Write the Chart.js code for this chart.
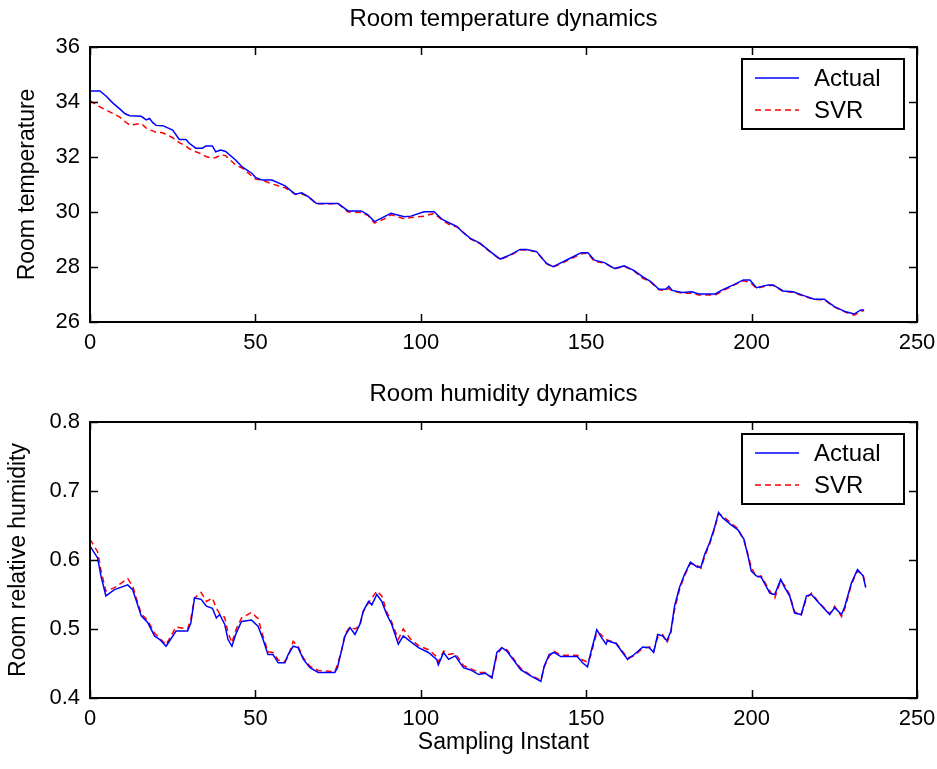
<!DOCTYPE html>
<html>
<head>
<meta charset="utf-8">
<title>Room temperature and humidity dynamics</title>
<script src="https://cdn.jsdelivr.net/npm/chart.js@4.4.0/dist/chart.umd.min.js"></script>
<style>
  html, body { margin: 0; padding: 0; background: #fff; }
  #wrap { position: relative; width: 937px; height: 769px; }
  .box { position: absolute; left: 0; width: 937px; }
</style>
</head>
<body>
<div id="wrap">
  <div class="box" style="top:0;height:375px"><canvas id="tempChart" width="937" height="375"></canvas></div>
  <div class="box" style="top:375px;height:394px"><canvas id="humChart" width="937" height="394"></canvas></div>
</div>
<script>
// Sampling instants and readings, top plot (room temperature)
const tempX = [0, 3, 5, 7, 9, 10.5, 12, 15.5, 17, 18, 19, 20, 22, 25, 27, 29, 30, 32, 34, 35, 37, 38, 39.5, 41, 44, 46, 49, 50, 52, 55,
  59, 62, 64, 66, 68.5, 75, 78, 82, 84, 86, 89, 91, 95, 97, 101, 104, 106.5, 108.5, 111, 112.5, 115, 118, 121, 124, 127, 130, 132, 135, 138, 140,
  142, 145, 148.5, 150.5, 152.5, 155.5, 158.5, 161.5, 164.5, 167, 169.5, 172, 174, 175, 176, 179, 182, 184, 189, 191, 194.5, 197.5, 199.5, 201.5, 205, 206.5,
  209.5, 212.5, 216, 219, 222, 225, 228.5, 231, 233, 234];
const tempActual = [34.40, 34.40, 34.20, 33.95, 33.75, 33.58, 33.50, 33.48, 33.35, 33.40, 33.25, 33.15, 33.14, 32.98, 32.64, 32.64, 32.50, 32.32, 32.32, 32.40,
  32.40, 32.19, 32.25, 32.20, 31.89, 31.64, 31.40, 31.26, 31.16, 31.16, 30.95, 30.65, 30.70, 30.56, 30.31, 30.31, 30.04, 30.04, 29.90, 29.65,
  29.83, 29.95, 29.83, 29.85, 30.01, 30.01, 29.73, 29.61, 29.47, 29.28, 29.04, 28.86, 28.56, 28.29, 28.44, 28.64, 28.64, 28.56, 28.13, 28.01,
  28.13, 28.31, 28.52, 28.52, 28.25, 28.16, 27.95, 28.04, 27.87, 27.65, 27.47, 27.19, 27.19, 27.30, 27.15, 27.07, 27.10, 27.02, 27.02, 27.16,
  27.35, 27.53, 27.53, 27.25, 27.35, 27.35, 27.13, 27.10, 26.95, 26.83, 26.83, 26.56, 26.37, 26.29, 26.44, 26.44];
const tempSvr = [34.05, 33.82, 33.70, 33.58, 33.45, 33.30, 33.16, 33.22, 33.05, 32.98, 32.95, 32.90, 32.88, 32.70, 32.52, 32.40, 32.30, 32.19, 32.10, 32.02,
  31.95, 31.98, 32.07, 32.05, 31.71, 31.60, 31.30, 31.20, 31.16, 31.02, 30.88, 30.65, 30.66, 30.55, 30.30, 30.30, 30.00, 29.98, 29.88, 29.60,
  29.75, 29.90, 29.75, 29.80, 29.85, 29.95, 29.70, 29.55, 29.45, 29.30, 29.02, 28.84, 28.55, 28.27, 28.42, 28.62, 28.62, 28.55, 28.12, 28.00,
  28.10, 28.28, 28.48, 28.50, 28.20, 28.15, 27.93, 28.02, 27.85, 27.60, 27.45, 27.17, 27.15, 27.22, 27.13, 27.05, 27.05, 26.98, 26.98, 27.12,
  27.33, 27.50, 27.45, 27.22, 27.33, 27.33, 27.12, 27.08, 26.93, 26.82, 26.80, 26.55, 26.35, 26.25, 26.38, 26.42];

// Sampling instants and readings, bottom plot (relative humidity)
const humX = [0, 2.3, 3.3, 4.8, 7.4, 11.4, 12.9, 15.5, 17.5, 19.5, 21, 23, 26, 29.5, 30.5, 31.6, 33.6, 35.2, 37, 38.2, 39.2, 40.7, 41.7, 42.9, 44.2, 45.8,
  48.8, 50.8, 52.3, 53.8, 55.3, 56.9, 58.9, 59.9, 61.4, 62.9, 64.5, 66.5, 69, 74, 74.8, 76.1, 77.1, 78.6, 80.1, 81.6, 82.6, 84.2, 85.2, 86.7,
  88.2, 89.7, 91.2, 93.2, 94.7, 96.8, 99.3, 102.3, 104.8, 105.3, 106.9, 108.4, 110.4, 112.9, 114.9, 117.5, 119.5, 121.5, 123, 124.5, 126, 130.2,
  133.2, 136.3, 137.3, 138.8, 140.3, 142.3, 147.3, 148.9, 150.4, 151.4, 153.2, 154.3, 156, 156.4, 159, 162.5, 164.5, 167.1, 169.1, 170.4, 171.6,
  173.1, 174.4, 175.6, 176.7, 178.2, 179.7, 181.5, 183.5, 184.7, 185.8, 187.3, 188.8, 190, 191.3, 193.8, 195.8, 197.7, 198.9, 199.9, 201.4,
  202.9, 205.5, 207, 208.8, 210, 211.5, 213, 215, 216.6, 218.1, 220.1, 223.6, 225.1, 227.2, 228.2, 230.2, 232, 233.7, 234.5];
const humActual = [0.620, 0.603, 0.577, 0.548, 0.557, 0.564, 0.557, 0.519, 0.509, 0.490, 0.485, 0.475, 0.497, 0.497, 0.509, 0.545, 0.543, 0.533, 0.530, 0.516,
  0.521, 0.507, 0.485, 0.475, 0.494, 0.511, 0.513, 0.504, 0.485, 0.463, 0.463, 0.451, 0.451, 0.463, 0.475, 0.473, 0.456, 0.444, 0.437, 0.437,
  0.444, 0.470, 0.490, 0.502, 0.492, 0.507, 0.526, 0.540, 0.535, 0.550, 0.540, 0.521, 0.507, 0.478, 0.490, 0.482, 0.473, 0.466, 0.456, 0.448,
  0.466, 0.456, 0.461, 0.444, 0.441, 0.434, 0.436, 0.429, 0.466, 0.473, 0.468, 0.441, 0.432, 0.424, 0.446, 0.463, 0.466, 0.460, 0.460, 0.451,
  0.445, 0.466, 0.499, 0.490, 0.478, 0.483, 0.479, 0.456, 0.463, 0.474, 0.473, 0.466, 0.492, 0.490, 0.483, 0.497, 0.533, 0.560, 0.579, 0.597,
  0.590, 0.590, 0.608, 0.625, 0.647, 0.669, 0.661, 0.651, 0.644, 0.630, 0.606, 0.584, 0.577, 0.575, 0.552, 0.550, 0.572, 0.560, 0.548, 0.523,
  0.521, 0.548, 0.550, 0.539, 0.521, 0.531, 0.521, 0.533, 0.567, 0.586, 0.577, 0.560];
const humSvr = [0.630, 0.612, 0.585, 0.555, 0.560, 0.573, 0.562, 0.522, 0.512, 0.494, 0.487, 0.477, 0.503, 0.500, 0.515, 0.545, 0.553, 0.540, 0.545, 0.530,
  0.522, 0.517, 0.495, 0.480, 0.500, 0.516, 0.524, 0.515, 0.490, 0.467, 0.466, 0.455, 0.453, 0.460, 0.482, 0.475, 0.458, 0.446, 0.440, 0.438,
  0.448, 0.470, 0.493, 0.503, 0.500, 0.505, 0.525, 0.538, 0.545, 0.555, 0.548, 0.525, 0.510, 0.485, 0.500, 0.486, 0.476, 0.470, 0.460, 0.452,
  0.468, 0.463, 0.465, 0.447, 0.443, 0.437, 0.437, 0.430, 0.462, 0.473, 0.470, 0.443, 0.433, 0.426, 0.445, 0.460, 0.468, 0.462, 0.462, 0.455,
  0.452, 0.462, 0.495, 0.493, 0.485, 0.484, 0.480, 0.458, 0.461, 0.472, 0.474, 0.468, 0.488, 0.492, 0.480, 0.495, 0.528, 0.557, 0.577, 0.595,
  0.592, 0.588, 0.605, 0.623, 0.645, 0.667, 0.664, 0.653, 0.646, 0.628, 0.608, 0.590, 0.575, 0.577, 0.555, 0.545, 0.570, 0.563, 0.550, 0.525,
  0.520, 0.545, 0.552, 0.540, 0.522, 0.533, 0.518, 0.530, 0.565, 0.584, 0.579, 0.562];

const seriesNames = ['Actual', 'SVR'];
const seriesColors = ['#0000ff', '#ff0000'];
const xTickStep = 50;

const FONT = 'Liberation Sans, Arial, sans-serif';

function toPoints(xs, ys) {
  return xs.map((x, i) => ({ x: x, y: ys[i] }));
}

// frame, inward ticks on all four sides and the boxed legend, MATLAB style
const matlabAxes = {
  id: 'matlabAxes',
  afterDraw(chart) {
    const { ctx, chartArea: a, scales } = chart;
    ctx.save();
    ctx.strokeStyle = '#000';
    ctx.lineWidth = 1.5;
    ctx.beginPath();
    scales.x.ticks.forEach(t => {
      const px = Math.round(scales.x.getPixelForValue(t.value)) + 0.5;
      ctx.moveTo(px, a.bottom); ctx.lineTo(px, a.bottom - 8);
      ctx.moveTo(px, a.top); ctx.lineTo(px, a.top + 8);
    });
    scales.y.ticks.forEach(t => {
      const py = Math.round(scales.y.getPixelForValue(t.value)) + 0.5;
      ctx.moveTo(a.left, py); ctx.lineTo(a.left + 8, py);
      ctx.moveTo(a.right, py); ctx.lineTo(a.right - 8, py);
    });
    ctx.stroke();
    ctx.lineWidth = 2;
    ctx.strokeRect(a.left, a.top, a.width, a.height);

    // legend
    const w = 162, h = 70;
    const lx = a.right - 13 - w, ly = a.top + 12;
    ctx.fillStyle = '#fff';
    ctx.fillRect(lx, ly, w, h);
    ctx.lineWidth = 2;
    ctx.strokeRect(lx, ly, w, h);
    chart.data.datasets.forEach((ds, i) => {
      const y = ly + 19 + i * 32;
      ctx.beginPath();
      ctx.strokeStyle = ds.borderColor;
      ctx.lineWidth = 1.5;
      ctx.setLineDash(ds.borderDash || []);
      ctx.moveTo(lx + 13, y); ctx.lineTo(lx + 57, y);
      ctx.stroke();
      ctx.setLineDash([]);
      ctx.fillStyle = '#000';
      ctx.font = '24px ' + FONT;
      ctx.textBaseline = 'middle';
      ctx.fillText(ds.label, lx + 72, y + 1);
    });
    ctx.restore();
  }
};

function makeChart(id, cfg) {
  const canvas = document.getElementById(id);
  return new Chart(canvas.getContext('2d'), {
    type: 'line',
    data: {
      datasets: [
        { label: seriesNames[0], data: toPoints(cfg.xs, cfg.actual), borderColor: seriesColors[0], borderWidth: 1.5 },
        { label: seriesNames[1], data: toPoints(cfg.xs, cfg.svr), borderColor: seriesColors[1], borderWidth: 1.5, borderDash: [6, 4] }
      ]
    },
    options: {
      responsive: false,
      animation: false,
      events: [],
      elements: { point: { radius: 0 }, line: { tension: 0 } },
      layout: { padding: { left: 0, right: 20, top: 0, bottom: 0 } },
      plugins: {
        legend: { display: false },
        tooltip: { enabled: false },
        title: {
          display: true,
          fullSize: false,
          text: cfg.title,
          color: '#000',
          font: { family: FONT, size: 24, weight: 'normal' },
          padding: { top: 5, bottom: 13.2 }
        }
      },
      scales: {
        x: {
          type: 'linear',
          min: 0, max: 250,
          grid: { display: false },
          border: { display: false },
          ticks: { stepSize: xTickStep, color: '#000', padding: 0, maxRotation: 0, font: { family: FONT, size: 22 } },
          title: {
            display: !!cfg.xTitle,
            text: cfg.xTitle,
            color: '#000',
            font: { family: FONT, size: 23 },
            padding: { top: 0, bottom: 13 }
          },
          afterFit: s => { s.height = cfg.xHeight; }
        },
        y: {
          min: cfg.yMin, max: cfg.yMax,
          grid: { display: false },
          border: { display: false },
          ticks: {
            stepSize: cfg.yStep, color: '#000', padding: 2,
            font: { family: FONT, size: 22 },
            callback: v => v.toFixed(cfg.yDecimals)
          },
          title: {
            display: true,
            text: cfg.yTitle,
            color: '#000',
            font: { family: FONT, size: 23 },
            padding: { top: cfg.yTitlePad, bottom: 0 }
          },
          afterFit: s => { s.width = 90; }
        }
      }
    },
    plugins: [matlabAxes]
  });
}

makeChart('tempChart', {
  xs: tempX, actual: tempActual, svr: tempSvr,
  title: 'Room temperature dynamics',
  yTitle: 'Room temperature', yTitlePad: 14,
  yMin: 26, yMax: 36, yStep: 2, yDecimals: 0,
  xTitle: '', xHeight: 53
});

makeChart('humChart', {
  xs: humX, actual: humActual, svr: humSvr,
  title: 'Room humidity dynamics',
  yTitle: 'Room relative humidity', yTitlePad: 5,
  yMin: 0.4, yMax: 0.8, yStep: 0.1, yDecimals: 1,
  xTitle: 'Sampling Instant', xHeight: 71
});
</script>
</body>
</html>
